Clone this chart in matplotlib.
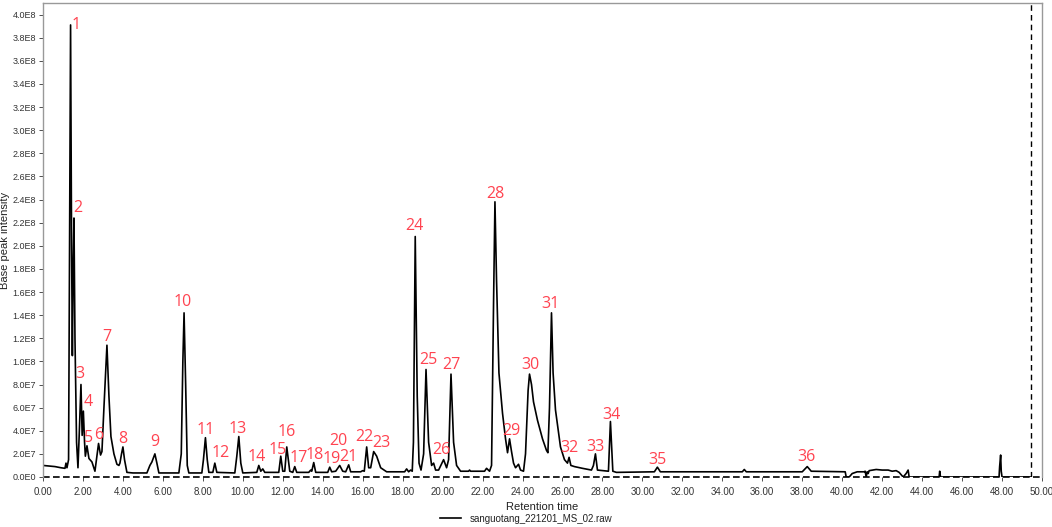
import matplotlib
matplotlib.use("Agg")
import matplotlib.pyplot as plt
from matplotlib.ticker import FuncFormatter, MultipleLocator

# chromatogram trace: retention time (min), intensity (x1E7)
trace_time = [
    0.0, 0.3, 0.6, 0.9, 1.1, 1.15, 1.2, 1.28, 1.33, 1.38, 1.43, 1.47, 1.51, 1.55, 1.6, 1.68, 1.75,
    1.82, 1.9, 1.96, 2.02, 2.08, 2.12, 2.2, 2.3, 2.45, 2.6, 2.7, 2.78, 2.88, 2.95, 3.05, 3.2, 3.3,
    3.4, 3.55, 3.7, 3.8, 3.85, 3.93, 4.0, 4.08, 4.2, 4.5, 5.2, 5.35, 5.45, 5.6, 5.7, 5.8, 6.8,
    6.92, 7.0, 7.06, 7.14, 7.22, 7.3, 7.95, 8.03, 8.13, 8.22, 8.3, 8.5, 8.6, 8.7, 9.6, 9.7, 9.8,
    9.9, 10.0, 10.7, 10.8, 10.9, 11.0, 11.1, 11.8, 11.9, 12.0, 12.1, 12.2, 12.35, 12.5, 12.6,
    12.7, 13.3, 13.4, 13.45, 13.55, 13.65, 14.25, 14.35, 14.45, 14.65, 14.85, 15.0, 15.15, 15.3,
    15.4, 15.9, 16.0, 16.08, 16.2, 16.3, 16.4, 16.55, 16.7, 16.9, 17.2, 18.1, 18.2, 18.3, 18.4,
    18.48, 18.54, 18.63, 18.73, 18.82, 18.92, 19.05, 19.17, 19.3, 19.45, 19.55, 19.65, 19.8, 20.05,
    20.2, 20.3, 20.42, 20.55, 20.7, 20.9, 21.3, 21.35, 21.4, 22.1, 22.2, 22.35, 22.45, 22.55,
    22.62, 22.7, 22.82, 23.0, 23.15, 23.25, 23.35, 23.45, 23.55, 23.65, 23.8, 23.9, 24.05, 24.15,
    24.28, 24.35, 24.45, 24.55, 24.75, 25.0, 25.2, 25.27, 25.35, 25.45, 25.53, 25.65, 25.9, 26.1,
    26.25, 26.33, 26.42, 26.6, 27.0, 27.45, 27.55, 27.65, 27.75, 28.3, 28.4, 28.52, 28.7, 30.6,
    30.75, 30.9, 35.0, 35.1, 35.2, 38.0, 38.25, 38.45, 40.15, 40.2, 40.35, 40.5, 40.75, 41.1,
    41.15, 41.2, 41.25, 41.3, 41.35, 41.7, 42.0, 42.3, 42.5, 42.7, 42.85, 43.05, 43.2, 43.3,
    43.35, 44.85, 44.88, 44.92, 47.85, 47.88, 47.93, 47.96, 48.0, 49.45,
]
trace_int = [
    1.0, 0.95, 0.9, 0.8, 0.75, 1.2, 0.8, 1.5, 20, 39.1, 20, 10.5, 18, 22.4, 12, 3, 0.8,
    4, 8.0, 3.6, 5.7, 3, 1.8, 2.7, 1.6, 1.3, 0.5, 1.8, 2.9, 1.9, 2.2, 6, 11.4, 7,
    3.5, 2.0, 1.1, 1.0, 1.2, 2.0, 2.6, 1.5, 0.4, 0.35, 0.35, 1.0, 1.3, 2.0, 1.2, 0.35, 0.35,
    2, 10, 14.2, 8, 1.0, 0.35, 0.35, 1.5, 3.4, 1.5, 0.4, 0.4, 1.2, 0.4, 0.35, 1.8, 3.5,
    1.2, 0.35, 0.4, 1.0, 0.5, 0.7, 0.4, 0.4, 1.8, 0.5, 0.5, 2.6, 0.5, 0.4, 0.9,
    0.4, 0.4, 0.6, 0.5, 1.25, 0.4, 0.4, 0.85, 0.45, 0.5, 1.0, 0.5, 0.45, 1.05,
    0.45, 0.45, 0.55, 0.5, 2.6, 0.8, 0.8, 2.2, 1.8, 0.8, 0.45, 0.45, 0.7, 0.45, 0.6,
    0.5, 3, 20.8, 7, 1.2, 0.6, 2, 9.3, 3, 1.0, 1.2, 0.6, 0.6, 1.5,
    0.8, 1.5, 8.9, 3, 1.0, 0.5, 0.5, 0.6, 0.5, 0.5, 0.75, 0.5, 1.0, 15,
    23.8, 17, 9, 5.5, 3.3, 2.1, 3.3, 2.2, 1.2, 0.8, 1.1, 0.6, 0.5, 2,
    7.5, 8.9, 8.0, 6.5, 4.9, 3.3, 2.3, 2.1, 6, 14.2, 9, 5.8, 2.6, 1.5,
    1.2, 1.7, 1.0, 0.9, 0.75, 0.6, 1.0, 2.0, 0.6, 0.5, 4.8, 0.5, 0.4, 0.45,
    0.85, 0.45, 0.45, 0.65, 0.45, 0.45, 0.9, 0.5, 0.45, 0.0, 0.0, 0.3, 0.45, 0.45,
    0.5, 0.0, 0.45, 0.3, 0.55, 0.65, 0.6, 0.6, 0.5, 0.55, 0.4, 0.0, 0.3, 0.6,
    0.0, 0.0, 0.5, 0.0, 0.0, 0.9, 1.9, 0.5, 0.0, 0.0,
]

# peak numbers and where their labels sit (time, intensity x1E7)
peak_ids = [str(i) for i in range(1, 37)]
label_time = [1.65, 1.74, 1.87, 2.24, 2.27, 2.79, 3.21, 4.01, 5.61, 7.0, 8.12, 8.87,
              9.72, 10.71, 11.73, 12.21, 12.82, 13.6, 14.44, 14.77, 15.3, 16.1, 16.94,
              18.61, 19.28, 19.95, 20.45, 22.66, 23.42, 24.41, 25.38, 26.33, 27.63, 28.44,
              30.76, 38.2]
label_int = [39.1, 23.3, 8.9, 6.5, 3.4, 3.6, 12.1, 3.26, 3.0, 15.1, 4.07, 2.1,
             4.13, 1.76, 2.34, 3.87, 1.62, 1.9, 1.53, 3.1, 1.76, 3.5, 2.97,
             21.7, 10.1, 2.34, 9.7, 24.5, 4.0, 9.7, 15.0, 2.48, 2.6, 5.4,
             1.47, 1.7]

scale = 1e7
fig = plt.figure(figsize=(10.52, 5.27), dpi=100)
ax = fig.add_axes([43 / 1052, 50 / 527, 999 / 1052, 474 / 527])

ax.plot(trace_time, [v * scale for v in trace_int], color="black", lw=1.2,
        label="sanguotang_221201_MS_02.raw")
ax.axhline(0, color="black", lw=1.2, ls=(0, (4, 2)), clip_on=False)
ax.axvline(49.47, color="black", lw=1.0, ls=(0, (4, 3)))

for pid, t, v in zip(peak_ids, label_time, label_int):
    ax.text(t, v * scale, pid, color="#ff4350", fontsize=11.5, family="Open Sans",
            ha="center", va="center")

ax.set_xlim(0, 50)
ax.set_ylim(0, 4.1e8)
ax.xaxis.set_major_locator(MultipleLocator(2))
ax.yaxis.set_major_locator(MultipleLocator(2e7))


def sci_fmt(v, pos):
    if v == 0:
        return "0.0E0"
    exp = len(str(int(round(v)))) - 1
    return "%.1fE%d" % (v / 10 ** exp, exp)


ax.yaxis.set_major_formatter(FuncFormatter(sci_fmt))
ax.xaxis.set_major_formatter(FuncFormatter(lambda v, p: "%.2f" % v))
ax.tick_params(labelsize=7, colors="#333333", length=3, width=0.6)
ax.tick_params(axis="x", pad=4)
ax.tick_params(axis="y", labelsize=6.5, pad=2)
for lbl in ax.get_xticklabels() + ax.get_yticklabels():
    lbl.set_family("Liberation Sans")
for s in ["left", "top", "right"]:
    ax.spines[s].set_color("#999999")
    ax.spines[s].set_linewidth(1.0)
ax.spines["bottom"].set_visible(False)

ax.set_xlabel("Retention time", fontsize=8, color="#222222", labelpad=4,
              family="Liberation Sans")
ax.set_ylabel("Base peak intensity", fontsize=8, color="#222222",
              family="Liberation Sans")
ax.yaxis.set_label_coords(-0.033, 0.5)

fig.legend(loc="center", bbox_to_anchor=(0.5, 0.016), frameon=False,
           prop={"family": "Liberation Sans", "size": 7},
           handlelength=2.2, labelcolor="#222222")

fig.savefig("out.png", dpi=100)
